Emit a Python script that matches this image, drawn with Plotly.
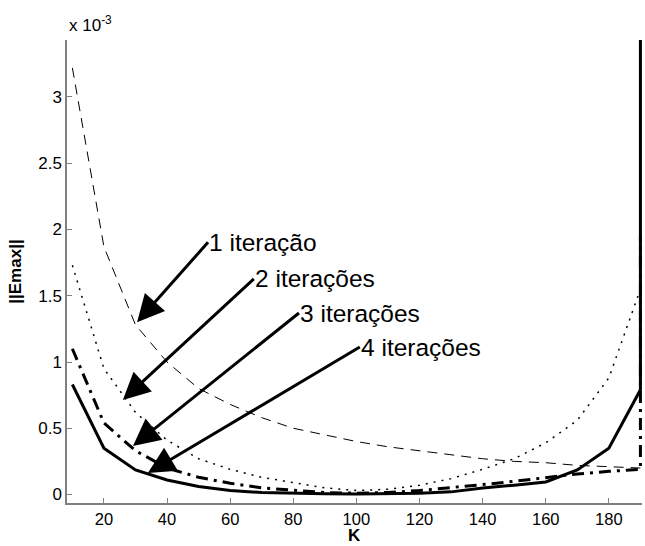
import plotly.graph_objects as go

# K values (last point repeated where the curve jumps vertically at K=190)
k_values = [10, 20, 30, 40, 50, 60, 70, 80, 90, 100, 110, 120, 130, 140, 150, 160, 170, 180, 190]

# ||Emax|| in units of 1e-3
err_1 = [3.22, 1.87, 1.28, 1.00, 0.80, 0.68, 0.58, 0.50, 0.45, 0.40, 0.36, 0.33, 0.30, 0.27, 0.25, 0.24, 0.22, 0.21, 0.20]
err_2 = [1.73, 0.95, 0.62, 0.41, 0.27, 0.19, 0.13, 0.09, 0.05, 0.03, 0.04, 0.07, 0.12, 0.19, 0.27, 0.39, 0.56, 0.88, 1.55]
err_3 = [1.10, 0.54, 0.33, 0.20, 0.13, 0.085, 0.05, 0.03, 0.015, 0.01, 0.015, 0.03, 0.05, 0.075, 0.10, 0.13, 0.155, 0.175, 0.19]
err_4 = [0.83, 0.35, 0.185, 0.11, 0.06, 0.03, 0.015, 0.008, 0.005, 0.003, 0.005, 0.01, 0.02, 0.05, 0.07, 0.095, 0.185, 0.35, 0.79]
# vertical jump at the last K
jump_3 = 1.95
jump_4 = 6.0

y_ticks = [0, 0.5, 1, 1.5, 2, 2.5, 3]
x_ticks = [20, 40, 60, 80, 100, 120, 140, 160, 180]

labels = ["1 iteração", "2 iterações", "3 iterações", "4 iterações"]
# arrow tips (K, value) and label offsets from tip (px)
tip_k = [30.5, 26.0, 29.2, 33.9]
tip_v = [1.30, 0.714, 0.366, 0.162]
tail_dx = [71, 131, 166, 212]
tail_dy = [-80, -121, -133, -126]

FONT = "Liberation Sans, Arial, sans-serif"

fig = go.Figure()
fig.add_trace(go.Scatter(x=k_values, y=err_1, mode="lines",
                         line=dict(color="black", width=1, dash="10px,7px")))
fig.add_trace(go.Scatter(x=k_values, y=err_2, mode="lines",
                         line=dict(color="black", width=1.5, dash="2px,6px")))
fig.add_trace(go.Scatter(x=k_values + [k_values[-1]], y=err_3 + [jump_3], mode="lines",
                         line=dict(color="black", width=3, dash="12px,6px,3px,6px")))
fig.add_trace(go.Scatter(x=k_values + [k_values[-1]], y=err_4 + [jump_4], mode="lines",
                         line=dict(color="black", width=3)))

annotations = []
for i in range(4):
    annotations.append(dict(x=tip_k[i], y=tip_v[i], xref="x", yref="y", text=labels[i],
                            showarrow=True, arrowhead=2, arrowwidth=3, arrowsize=1.8,
                            arrowcolor="black", ax=tail_dx[i], ay=tail_dy[i],
                            xanchor="left", yanchor="middle", borderpad=0,
                            font=dict(family=FONT, size=24.5, color="black")))
annotations.append(dict(x=0, y=1, xref="paper", yref="paper", text="x 10<sup>-3</sup>",
                        showarrow=False, xanchor="left", yanchor="bottom", yshift=3,
                        font=dict(family=FONT, size=17, color="black")))
annotations.append(dict(x=0.5, y=-0.0929, xref="paper", yref="paper", text="<b>K</b>",
                        showarrow=False, xanchor="center", yanchor="bottom", borderpad=0,
                        font=dict(family=FONT, size=17, color="black")))
annotations.append(dict(x=-0.09, y=0.5, xref="paper", yref="paper", text="<b>||Emax||</b>",
                        showarrow=False, xanchor="center", yanchor="middle", textangle=-90,
                        font=dict(family=FONT, size=17, color="black")))

fig.update_layout(
    width=645, height=546,
    margin=dict(l=67, r=3, t=40, b=43),
    paper_bgcolor="white", plot_bgcolor="white",
    showlegend=False,
    font=dict(family=FONT, size=17, color="black"),
    annotations=annotations,
)
fig.update_xaxes(range=[8.3, 190.5], tickvals=x_ticks, ticks="inside", ticklen=5,
                 tickcolor="#808080", showline=True, linecolor="#808080", linewidth=1.5,
                 showgrid=False, zeroline=False, mirror=False, tickfont=dict(size=16.5))
fig.update_yaxes(range=[-0.064, 3.43], tickvals=y_ticks, ticktext=[str(v) for v in y_ticks],
                 ticks="inside", ticklen=5, tickcolor="#808080", showline=True,
                 linecolor="#808080", linewidth=1.5, showgrid=False, zeroline=False, mirror=False)

fig.write_html("out.html", config={"displayModeBar": False},
               post_script="document.body.style.margin='0';")
